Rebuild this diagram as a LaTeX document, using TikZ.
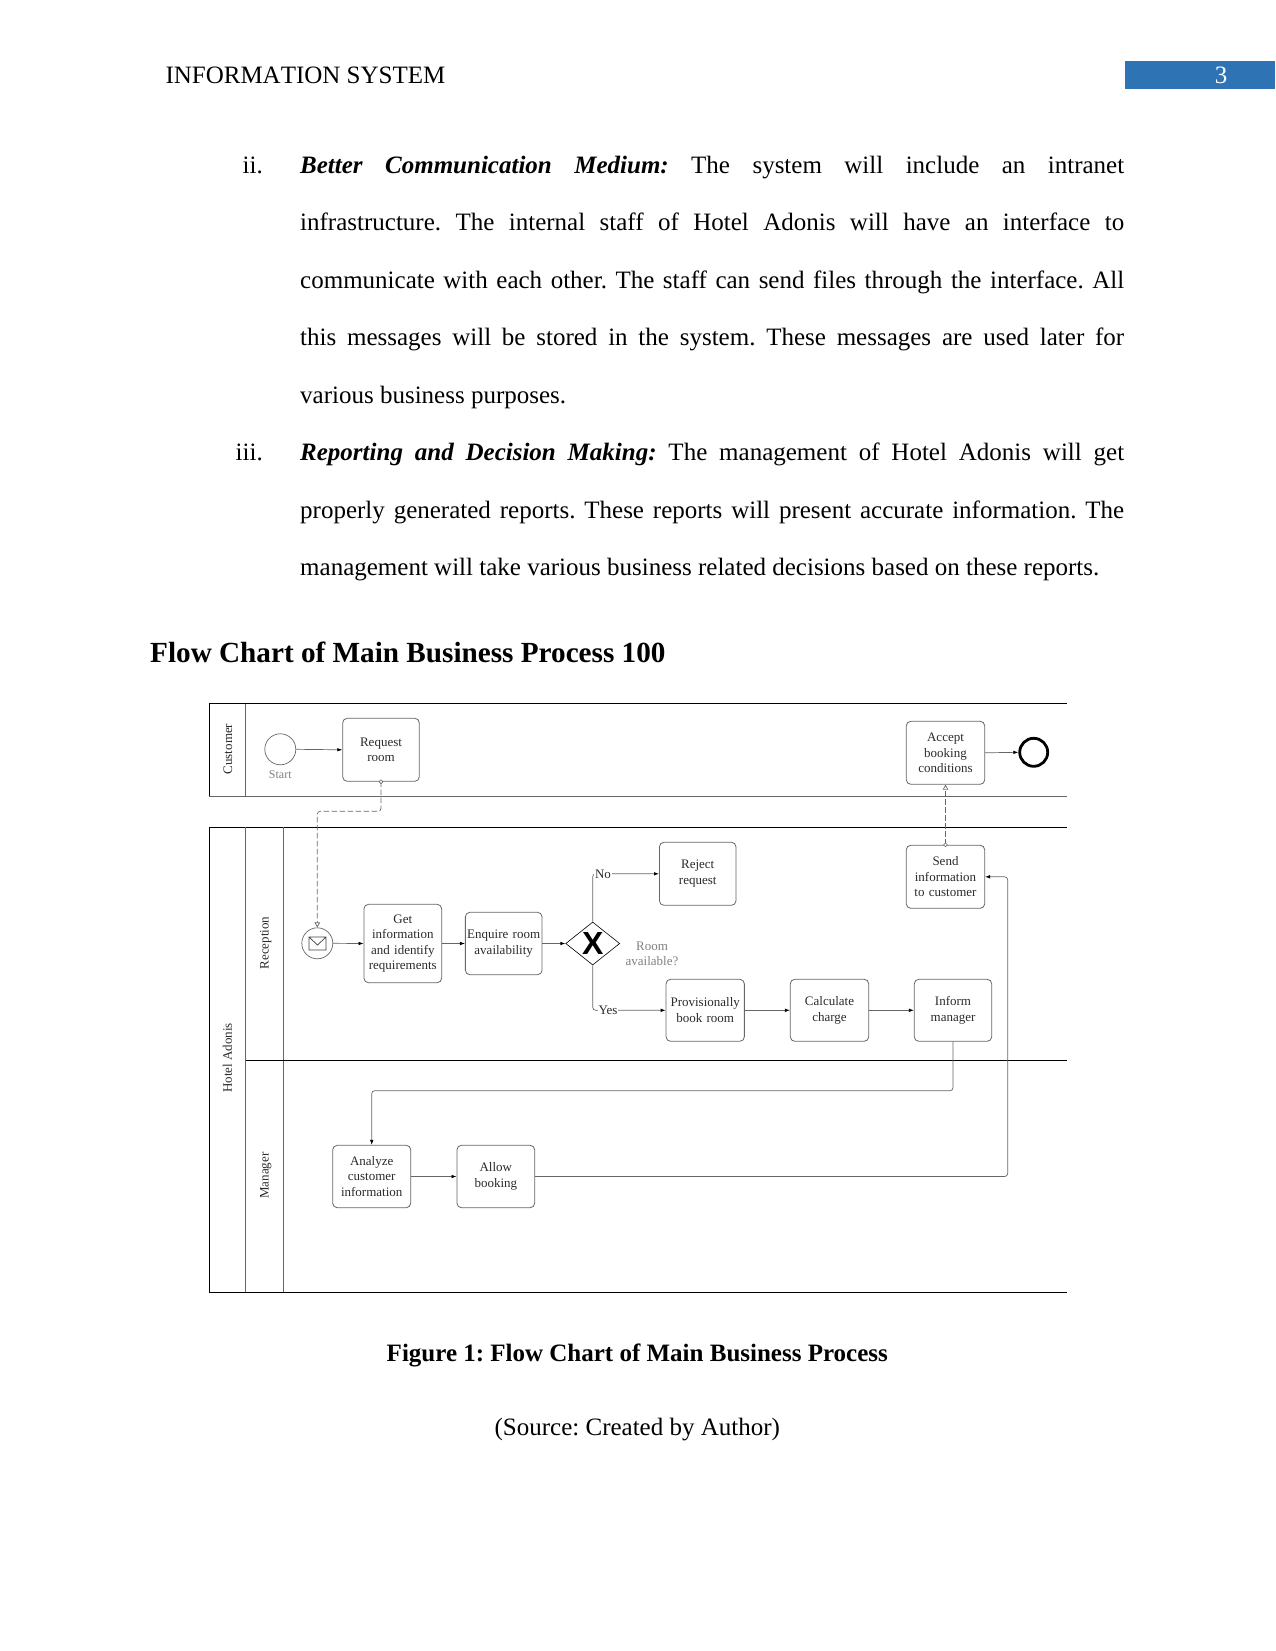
\documentclass[tikz,border=0pt]{standalone}
\usepackage{fontspec}
\setmainfont{Liberation Serif}
\newfontfamily\gwfont{Liberation Sans}
\usetikzlibrary{arrows.meta,shapes.geometric}
\definecolor{barblue}{HTML}{2E74B5}
\definecolor{edgegray}{HTML}{666666}
\definecolor{txtgray}{HTML}{2A2A2A}
\newcommand{\bodysize}{\fontsize{25}{30}\selectfont}
\newcommand{\dgsize}{\fontsize{13}{15.6}\selectfont}
\frenchspacing
\tikzset{
  pageline/.style={anchor=base west,inner sep=0pt,font=\bodysize},
  marker/.style={anchor=base east,inner sep=0pt,font=\bodysize},
  centerline/.style={anchor=base,inner sep=0pt,font=\bodysize},
  pool/.style={draw=black,line width=0.8pt},
  lanediv/.style={draw=edgegray,line width=0.9pt},
  task/.style={draw=edgegray,line width=0.8pt,rounded corners=4.5pt,align=center,inner sep=0pt,
     font=\dgsize,text=txtgray,text width=76pt},
  lanelabel/.style={rotate=90,inner sep=0pt,font=\dgsize,text=txtgray},
  flow/.style={draw=edgegray,line width=0.7pt,rounded corners=3pt,-{Latex[length=5pt,width=3.6pt,black]}},
  msgflow/.style={draw=edgegray,line width=0.7pt,rounded corners=3pt,dash pattern=on 5.5pt off 2.5pt,
     -{Triangle[open,length=5pt,width=5.5pt]}},
  msgorigin/.style={circle,draw=edgegray,fill=white,line width=0.6pt,minimum size=3.8pt,inner sep=0pt},
  flowlabel/.style={inner sep=0.6pt,fill=white,font=\dgsize,text=txtgray},
  notelabel/.style={inner sep=0pt,align=center,font=\dgsize,text=gray},
}
\newcommand{\jline}[3]{\node[pageline] (#1) at (300,#2) {\makebox[824pt][s]{#3}};}
\begin{document}
\begin{tikzpicture}[x=1pt,y=-1pt]
\useasboundingbox (0,0) rectangle (1275,1651);
% header
\node[anchor=base west,inner sep=0pt,font=\bodysize\addfontfeature{Kerning=Off}] (hdr) at (165.3,83.5) {INFORMATION SYSTEM};
\node[fill=barblue,minimum width=150pt,minimum height=28.6pt,inner sep=0pt,anchor=north west] (bar) at (1125,60.7) {};
\node[anchor=base,inner sep=0pt,text=white,font=\bodysize] (pnum) at (1221,83.5) {3};
% body
\node[marker] (m2) at (263,173) {ii.};
\jline{l1}{173}{\textbf{\textit{Better Communication Medium:}} The system will include an intranet}
\jline{l2}{230.5}{infrastructure. The internal staff of Hotel Adonis will have an interface to}
\jline{l3}{288}{communicate with each other. The staff can send files through the interface. All}
\jline{l4}{345.5}{this messages will be stored in the system. These messages are used later for}
\node[pageline] (l5) at (300,403) {various business purposes.};
\node[marker] (m3) at (263,460.5) {iii.};
\jline{l6}{460.5}{\textbf{\textit{Reporting and Decision Making:}} The management of Hotel Adonis will get}
\jline{l7}{518}{properly generated reports. These reports will present accurate information. The}
\node[pageline] (l8) at (300,575.5) {management will take various business related decisions based on these reports.};
\node[anchor=base west,inner sep=0pt,font=\fontsize{29.2}{35}\selectfont\bfseries] (head) at (150,662) {Flow Chart of Main Business Process 100};
% pools and lanes
\draw[pool] (1066.7,703.5) -- (209.3,703.5) -- (209.3,796.5);
\draw[lanediv] (209.3,796.5) -- (1066.7,796.5);
\draw[lanediv] (245.7,703.5) -- (245.7,796.5);
\draw[pool] (1066.7,827.3) -- (209.3,827.3) -- (209.3,1292.3) -- (1066.7,1292.3);
\draw[lanediv] (245.7,827.3) -- (245.7,1292.3);
\draw[lanediv] (283.3,827.3) -- (283.3,1292.3);
\draw[pool] (245.7,1060) -- (1066.7,1060);
\node[lanelabel] (lcust) at (228,749) {Customer};
\node[lanelabel] (lhotel) at (227.5,1058) {Hotel Adonis};
\node[lanelabel] (lrec) at (265.7,943) {Reception};
\node[lanelabel] (lman) at (265.7,1175.7) {Manager};
% events
\node[circle,draw=edgegray,line width=0.7pt,minimum size=31pt,inner sep=0pt] (start) at (280.3,749.3) {};
\node[notelabel,font=\fontsize{12}{14}\selectfont] (startl) at (280.3,775) {Start};
\node[circle,draw=black,line width=2.8pt,minimum size=28pt,inner sep=0pt] (endev) at (1033.7,752.3) {};
\node[circle,draw=edgegray,line width=0.7pt,minimum size=31pt,inner sep=0pt] (msg) at (317.3,943.3) {};
\draw[black!75,line width=0.7pt] (309,937) rectangle (326,950) (309,937) -- (317.5,945) -- (326,937);
% tasks
\node[task,minimum width=76.6pt,minimum height=63pt] (request) at (381,749.8) {Request\\room};
\node[task,minimum width=78.4pt,minimum height=63pt] (accept) at (945.5,752.8) {Accept\\booking\\conditions};
\node[task,minimum width=76.6pt,minimum height=63pt] (reject) at (697.7,873.8) {Reject\\request};
\node[task,minimum width=78.4pt,minimum height=63pt] (send) at (945.5,876.8) {Send\\information\\to customer};
\node[task,minimum width=77.7pt,minimum height=78.4pt] (getinfo) at (402.8,943.5) {Get\\information\\and identify\\requirements};
\node[task,minimum width=76.7pt,minimum height=62.4pt] (enquire) at (503.7,943.5) {Enquire room\\availability};
\node[task,minimum width=78.3pt,minimum height=62pt] (prov) at (705.2,1010.3) {Provisionally\\book room};
\node[task,minimum width=78.4pt,minimum height=62pt] (calc) at (829.5,1010.3) {Calculate\\charge};
\node[task,minimum width=77.4pt,minimum height=62pt] (inform) at (953,1010.3) {Inform\\manager};
\node[task,minimum width=78pt,minimum height=62.4pt] (analyze) at (371.7,1176.5) {Analyze\\customer\\information};
\node[task,minimum width=77.7pt,minimum height=62.4pt] (allow) at (495.8,1176.5) {Allow\\booking};
% gateway
\node[diamond,draw=black,line width=0.6pt,minimum width=54pt,minimum height=43pt,inner sep=0pt,aspect=1.25] (gw) at (592.7,943.5) {};
\node[inner sep=0pt,font=\gwfont\fontsize{32}{32}\selectfont\bfseries] (gwx) at (592.7,943.5) {X};
\node[notelabel] (room) at (652,954) {Room\\available?};
% helper coordinates
\coordinate (b1) at (371.7,1090.7);
\coordinate (b2) at (317.3,811.3);
\coordinate (b3) at (1007.7,1176.5);
\coordinate (b4) at (1007.7,876.8);
% connectors
\draw[flow] (start.east) -- (request.west);
\draw[flow] (accept.east) -- (endev.west);
\draw[flow] (msg.east) -- (getinfo.west);
\draw[flow] (getinfo.east |- enquire.west) -- (enquire.west);
\draw[flow] (enquire.east) -- (gw.west);
\draw[flow] (gw.north) |- (reject.west);
\draw[flow] (gw.south) |- (prov.west);
\draw[flow] (prov.east) -- (calc.west);
\draw[flow] (calc.east) -- (inform.west);
\draw[flow] (inform.south) |- (b1) -- (analyze.north);
\draw[flow] (analyze.east) -- (allow.west);
\draw[flow] (allow.east) -- (b3) -- (b4) -- (send.east);
% message flows with a small origin circle on the task border
\draw[msgflow] (request.south) |- (b2) -- (msg.north);
\draw[msgflow] (send.north) -- (accept.south);
\node[msgorigin] (orig1) at (request.south) {};
\node[msgorigin] (orig2) at (send.north) {};
\node[flowlabel] (nol) at (603,873.8) {No};
\node[flowlabel] (yesl) at (608,1010.3) {Yes};
% captions
\node[centerline,font=\bodysize\bfseries] (cap) at (637.3,1361) {Figure 1: Flow Chart of Main Business Process};
\node[centerline] (src) at (637.3,1435) {(Source: Created by Author)};
\end{tikzpicture}
\end{document}
